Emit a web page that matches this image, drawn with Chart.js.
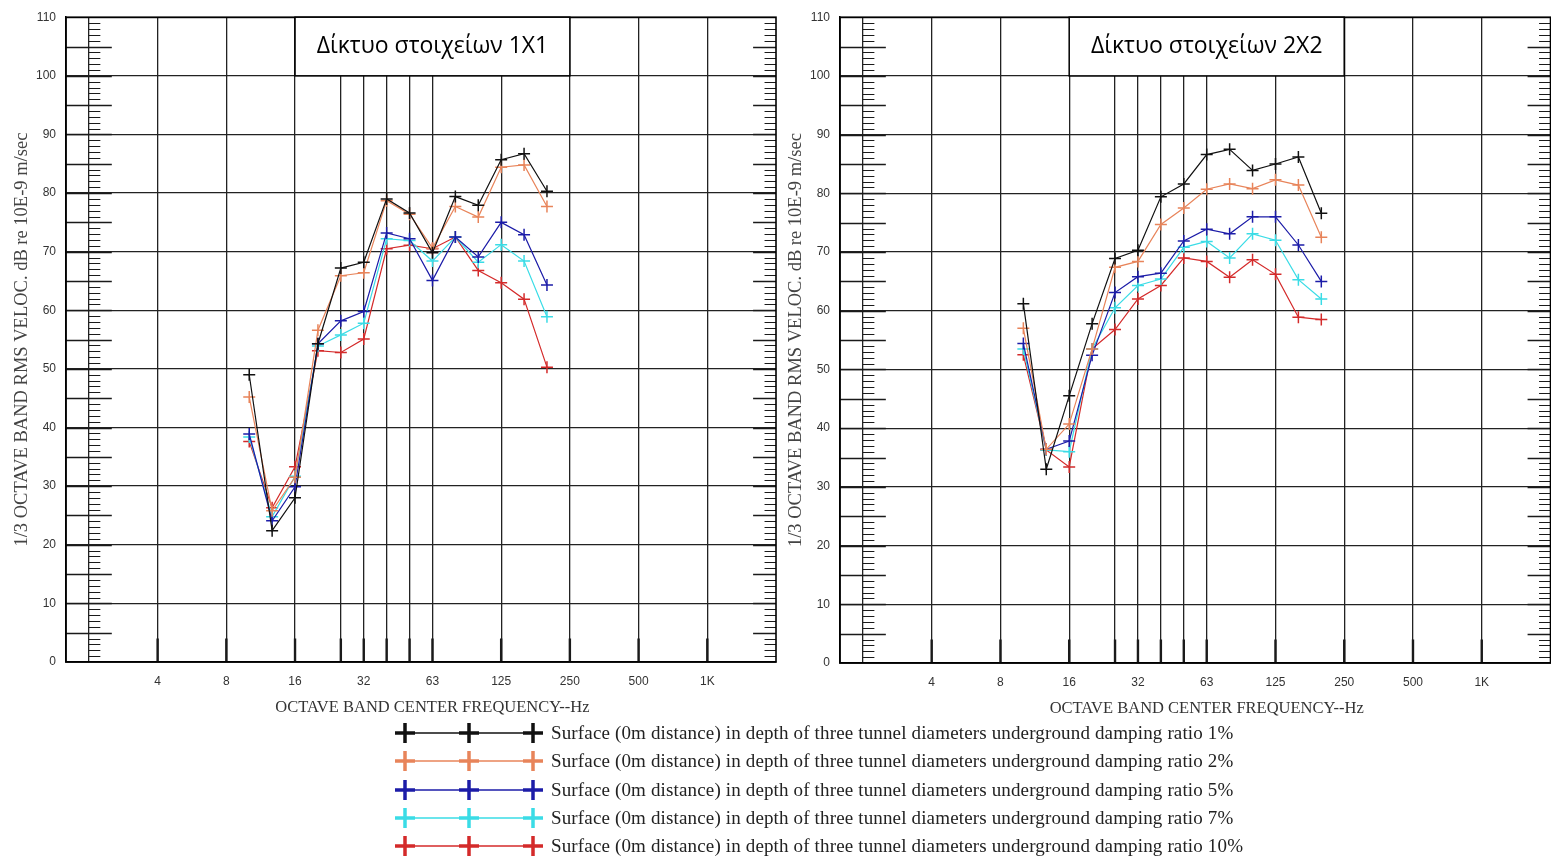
<!DOCTYPE html>
<html lang="el">
<head>
<meta charset="utf-8">
<title>1/3 octave band RMS velocity</title>
<script src="https://cdn.jsdelivr.net/npm/chart.js@4.4.1/dist/chart.umd.min.js"></script>
<style>
  html, body { margin: 0; background: #fff; }
  body { position: relative; width: 1551px; height: 859px; overflow: hidden; }
  #left { position: absolute; left: 0; top: 0; }
  #right { position: absolute; left: 774px; top: 0; }
  #legend { position: absolute; left: 395px; top: 719px; font-family: "Liberation Serif", serif; font-size: 19px; letter-spacing: 0.15px; color: #222; }
  .row { display: flex; align-items: center; height: 28.3px; white-space: nowrap; }
  .row svg { margin-right: 6px; }
</style>
</head>
<body>
<canvas id="left" width="790" height="725"></canvas>
<canvas id="right" width="784" height="726"></canvas>
<div id="legend"></div>
<script>
// 1/3 octave band centre frequencies (Hz)
const bandsHz = [10, 12.5, 16, 20, 25, 31.5, 40, 50, 63, 80, 100, 125, 160, 200];

const dampingRatios = ['1%', '2%', '5%', '7%', '10%'];
const seriesColors = ['#111111', '#E8845A', '#1C1CA8', '#3ADCE6', '#D42A2A'];
const labelBase = 'Surface (0m distance) in depth of three tunnel diameters underground damping ratio ';

// grid 1X1
const grid1_r1  = [49.0, 22.4, 28.0, 54.3, 67.2, 68.2, 79.0, 76.6, 69.8, 79.4, 77.9, 85.7, 86.7, 80.3];
const grid1_r2  = [45.2, 25.8, 31.5, 56.6, 65.9, 66.4, 78.7, 76.4, 70.6, 77.7, 75.9, 84.4, 84.8, 77.7];
const grid1_r5  = [38.9, 24.1, 29.9, 54.3, 58.2, 59.8, 73.2, 72.2, 65.1, 72.5, 69.1, 75.0, 72.9, 64.3];
const grid1_r7  = [38.4, 24.8, 31.7, 53.9, 55.8, 57.8, 72.2, 71.9, 68.4, 72.5, 68.2, 71.2, 68.4, 58.9];
const grid1_r10 = [37.6, 26.3, 33.3, 53.1, 52.8, 55.1, 70.5, 71.1, 70.5, 72.5, 66.8, 64.7, 61.9, 50.3];

// grid 2X2
const grid2_r1  = [61.2, 33.0, 45.5, 57.8, 68.9, 70.3, 79.4, 81.6, 86.6, 87.5, 83.9, 85.0, 86.2, 76.6];
const grid2_r2  = [57.0, 36.4, 40.7, 53.5, 67.4, 68.4, 74.7, 77.5, 80.7, 81.6, 80.8, 82.3, 81.4, 72.5];
const grid2_r5  = [54.4, 36.4, 37.8, 52.4, 63.1, 65.8, 66.4, 71.9, 73.9, 73.1, 76.0, 76.0, 71.2, 65.0];
const grid2_r7  = [53.5, 36.3, 36.0, 53.5, 60.5, 64.3, 65.4, 70.8, 71.8, 69.0, 73.1, 72.0, 65.3, 62.0];
const grid2_r10 = [52.5, 36.3, 33.4, 53.5, 56.8, 62.0, 64.3, 69.0, 68.4, 65.7, 68.7, 66.2, 58.9, 58.5];

// x axis works in 1/3-octave band numbers: f = 2^(n/3)
const band = f => Math.round(3 * Math.log2(f));
const gridBands = [3, 6, 9, 12, 14, 15, 16, 17, 18, 21, 24, 27, 30];
const tickNames = {6: '4', 9: '8', 12: '16', 15: '32', 18: '63', 21: '125', 24: '250', 27: '500', 30: '1K'};

// ruler ticks, frame, bottom stubs, x title and the caption box
const decorations = {
  id: 'decorations',
  beforeDatasetsDraw(chart) {
    const {ctx, chartArea: a, scales: {x, y}} = chart;
    ctx.save();
    ctx.strokeStyle = '#1a1a1a';
    const lx = x.getPixelForValue(3);
    const step = x.getPixelForValue(4) - lx;
    for (let v = 1; v < 110; v++) {
      const py = Math.round(y.getPixelForValue(v)) + 0.5;
      const major = v % 5 === 0;
      ctx.lineWidth = major ? 1.6 : 1.2;
      ctx.beginPath();
      if (major) {
        ctx.moveTo(a.left, py); ctx.lineTo(lx + step, py);
        ctx.moveTo(a.right, py); ctx.lineTo(a.right - step, py);
      } else {
        ctx.moveTo(lx, py); ctx.lineTo(lx + step / 2, py);
        ctx.moveTo(a.right, py); ctx.lineTo(a.right - step / 2, py);
      }
      ctx.stroke();
    }
    // heavier stubs at the foot of each frequency line
    ctx.lineWidth = 2.4;
    ctx.beginPath();
    gridBands.slice(1).forEach(b => {
      const px = x.getPixelForValue(b);
      ctx.moveTo(px, y.getPixelForValue(0));
      ctx.lineTo(px, y.getPixelForValue(4));
    });
    ctx.stroke();
    ctx.lineWidth = 1.6;
    ctx.strokeStyle = '#000';
    ctx.strokeRect(a.left, a.top, a.right - a.left, a.bottom - a.top);
    // x axis title
    ctx.fillStyle = '#333';
    ctx.font = '16.5px "Liberation Serif"';
    ctx.textAlign = 'center';
    ctx.textBaseline = 'middle';
    ctx.fillText('OCTAVE BAND CENTER FREQUENCY--Hz', x.getPixelForValue(18), x.top + 46);
    ctx.restore();
  },
  afterDatasetsDraw(chart, args, opts) {
    const {ctx, scales: {x, y}} = chart;
    const x0 = x.getPixelForValue(12), x1 = x.getPixelForValue(24);
    const y0 = y.getPixelForValue(110), y1 = y.getPixelForValue(100);
    ctx.save();
    ctx.fillStyle = '#fff';
    ctx.fillRect(x0, y0, x1 - x0, y1 - y0);
    ctx.strokeStyle = '#000';
    ctx.lineWidth = 1.5;
    ctx.strokeRect(x0, y0, x1 - x0, y1 - y0);
    ctx.fillStyle = '#000';
    ctx.font = '23px "Open Sans"';
    ctx.textAlign = 'center';
    ctx.textBaseline = 'middle';
    ctx.fillText(opts.caption, (x0 + x1) / 2, (y0 + y1) / 2);
    ctx.restore();
  }
};

function makeChart(id, caption, series, padTop) {
  const datasets = series.map((vals, i) => ({
    label: labelBase + dampingRatios[i],
    data: vals.map((v, k) => ({x: band(bandsHz[k]), y: v})),
    borderColor: seriesColors[i],
    backgroundColor: seriesColors[i],
    borderWidth: 1.2,
    pointStyle: 'cross',
    pointRadius: 6,
    pointBorderWidth: 1.5
  }));
  return new Chart(document.getElementById(id), {
    type: 'line',
    data: {datasets},
    plugins: [decorations],
    options: {
      responsive: false,
      animation: false,
      layout: {padding: {top: padTop, right: id === 'left' ? 14 : 1, left: 0, bottom: 0}},
      plugins: {
        legend: {display: false},
        tooltip: {enabled: false},
        decorations: {caption}
      },
      scales: {
        x: {
          type: 'linear',
          min: 2,
          max: 33,
          afterBuildTicks: s => { s.ticks = gridBands.map(v => ({value: v})); },
          afterFit: s => { s.height = 63; },
          grid: {color: '#222', lineWidth: 1.3, drawTicks: false},
          border: {color: '#000', width: 1.5},
          ticks: {
            autoSkip: false,
            maxRotation: 0,
            padding: 12,
            color: '#333',
            font: {family: 'Liberation Sans', size: 12},
            callback: v => tickNames[v] || ''
          }
        },
        y: {
          min: 0,
          max: 110,
          afterFit: s => { s.width = 66; },
          grid: {color: '#222', lineWidth: 1.3, drawTicks: false},
          border: {color: '#000', width: 1.5},
          ticks: {
            stepSize: 10,
            padding: 10,
            color: '#333',
            font: {family: 'Liberation Sans', size: 12}
          },
          title: {
            display: true,
            text: '1/3 OCTAVE BAND RMS VELOC. dB re 10E-9 m/sec',
            color: '#444',
            font: {family: 'Liberation Serif', size: 18.5},
            padding: {top: 11, bottom: 0}
          }
        }
      }
    }
  });
}

makeChart('left', 'Δίκτυο στοιχείων 1X1', [grid1_r1, grid1_r2, grid1_r5, grid1_r7, grid1_r10], 14);
makeChart('right', 'Δίκτυο στοιχείων 2X2', [grid2_r1, grid2_r2, grid2_r5, grid2_r7, grid2_r10], 15);

// shared legend under both panels
const legend = document.getElementById('legend');
dampingRatios.forEach((r, i) => {
  const c = seriesColors[i];
  const row = document.createElement('div');
  row.className = 'row';
  const plus = cx => `<path d="M${cx - 10} 14H${cx + 10}M${cx} 4V24" stroke="${c}" stroke-width="3.5"/>`;
  row.innerHTML = `<svg width="150" height="28"><path d="M2 14H148" stroke="${c}" stroke-width="2" opacity="0.75"/>` +
    plus(10) + plus(74) + plus(138) + `</svg><span>${labelBase + r}</span>`;
  legend.appendChild(row);
});
</script>
</body>
</html>
